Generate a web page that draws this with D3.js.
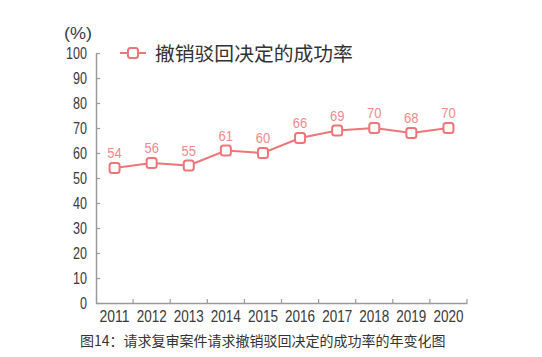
<!DOCTYPE html>
<html><head><meta charset="utf-8">
<script src="https://cdn.jsdelivr.net/npm/d3@7"></script>
<style>body{margin:0;background:#fff}svg{display:block}</style>
</head><body><svg id="c" width="542" height="357"></svg>
<script>
const years = ["2011","2012","2013","2014","2015","2016","2017","2018","2019","2020"];
const rates = [54,56,55,61,60,66,69,70,68,70];
const yTicks = [0,10,20,30,40,50,60,70,80,90,100];
const seriesName = "撤销驳回决定的成功率";
const unitLabel = "(%)";
const caption = "图14：请求复审案件请求撤销驳回决定的成功率的年变化图";

(function(){
const svg = d3.select("#c");
const L = 96, R = 467, T = 53, B = 303;
const x = d3.scaleBand().domain(years).range([L, R]);
const y = d3.scaleLinear().domain([0,100]).range([B, T]);
const axisColor = "#9a9a9a", lineColor = "#f07478", labelColor = "#f28a8c";
const numFont = "'Liberation Sans',Arial,sans-serif";
const cjk = "'Noto Sans CJK SC',sans-serif";

// Y axis
const ya = svg.append("g").attr("transform", `translate(${L},0)`)
  .call(d3.axisLeft(y).tickValues(yTicks).tickSizeInner(-4).tickSizeOuter(0).tickPadding(9));
ya.select(".domain").attr("stroke", axisColor).attr("stroke-width", 1.5);
ya.selectAll(".tick line").attr("stroke", axisColor).attr("stroke-width", 1.2);
ya.selectAll(".tick text").attr("fill", "#3a3a3a").style("font-family", numFont).style("font-size", "17px")
  .attr("textLength", d => String(d).length * 7).attr("lengthAdjust", "spacingAndGlyphs");

// X axis
const xa = svg.append("g").attr("transform", `translate(0,${B})`)
  .call(d3.axisBottom(x).tickSize(0).tickPadding(7));
xa.select(".domain").attr("stroke", axisColor).attr("stroke-width", 1.5);
xa.selectAll(".tick text").attr("fill", "#3a3a3a").style("font-family", numFont).style("font-size", "16px")
  .attr("dy", "0.75em").attr("textLength", 30).attr("lengthAdjust", "spacingAndGlyphs");
const bounds = years.slice(1).map(d => x(d)).concat([R]);
svg.append("g").selectAll("line").data(bounds).join("line")
  .attr("x1", d => d).attr("x2", d => d).attr("y1", B).attr("y2", B - 4)
  .attr("stroke", axisColor).attr("stroke-width", 1.2);

const cx = d => x(d) + x.bandwidth()/2;
svg.append("path").datum(rates.map((v,i)=>[years[i],v]))
  .attr("fill","none").attr("stroke", lineColor).attr("stroke-width", 2)
  .attr("d", d3.line().x(d=>cx(d[0])).y(d=>y(d[1])));
const ms = 10;
svg.append("g").selectAll("rect").data(years).join("rect")
  .attr("x", (d)=>cx(d)-ms/2).attr("y", (d,i)=>y(rates[i])-ms/2)
  .attr("width", ms).attr("height", ms).attr("rx", 2.5)
  .attr("fill","#fff").attr("stroke", lineColor).attr("stroke-width", 2);
svg.append("g").selectAll("text").data(years).join("text")
  .attr("x", d=>cx(d)).attr("y", (d,i)=>y(rates[i])-10)
  .attr("text-anchor","middle").attr("fill", labelColor)
  .style("font-family", numFont).style("font-size","15.5px")
  .attr("textLength", 14.5).attr("lengthAdjust", "spacingAndGlyphs")
  .text((d,i)=>rates[i]);

svg.append("text").attr("x", 78).attr("y", 39).attr("text-anchor","middle")
  .attr("fill","#3a3a3a").style("font-family", numFont).style("font-size","16px")
  .attr("textLength", 28).attr("lengthAdjust", "spacingAndGlyphs").text(unitLabel);

const lg = svg.append("g");
lg.append("line").attr("x1",120).attr("x2",146).attr("y1",53).attr("y2",53).attr("stroke",lineColor).attr("stroke-width",2);
lg.append("rect").attr("x",133-ms/2).attr("y",53-ms/2).attr("width",ms).attr("height",ms).attr("rx",2.5)
  .attr("fill","#fff").attr("stroke",lineColor).attr("stroke-width",2);
lg.append("text").attr("x",155).attr("y",61).attr("fill","#333")
  .style("font-family",cjk).style("font-size","19.8px").text(seriesName);

svg.append("text").attr("x",80).attr("y",346).attr("fill","#333")
  .style("font-family",cjk).style("font-size","14px").text(caption);
})();
</script></body></html>
